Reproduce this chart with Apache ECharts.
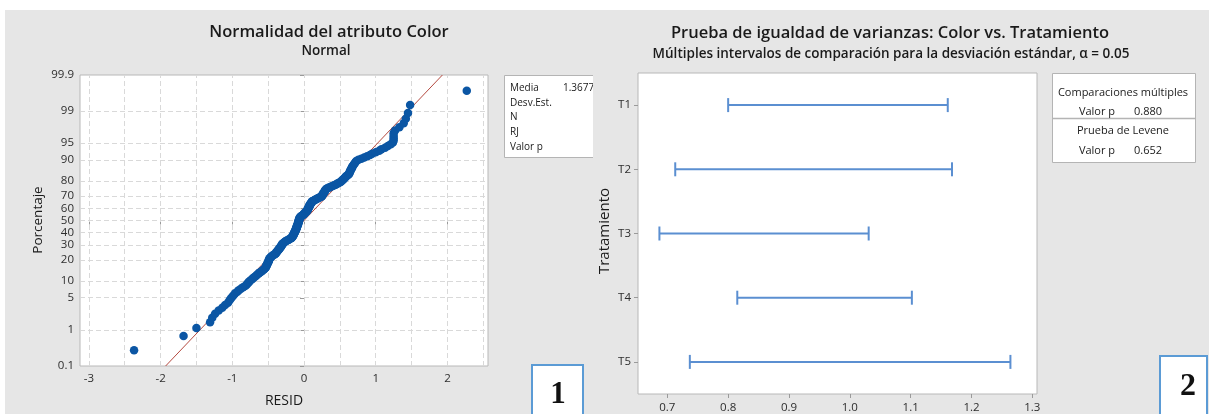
<!DOCTYPE html>
<html>
<head>
<meta charset="utf-8">
<script src="https://cdn.jsdelivr.net/npm/echarts@6/dist/echarts.min.js"></script>
<style>
  html, body { margin: 0; padding: 0; background: #ffffff; }
  #chart { width: 1209px; height: 414px; }
</style>
</head>
<body>
<div id="chart"></div>
<script>
// ---- Panel 1: normal probability plot of the residuals (sorted RESID values) ----
const residuals = [
  -2.37, -1.68, -1.50, -1.31, -1.28, -1.24, -1.19, -1.14, -1.10, -1.06,
  -1.04, -1.02, -1.00, -0.98, -0.96, -0.93, -0.91, -0.88, -0.85, -0.82,
  -0.80, -0.79, -0.77, -0.76, -0.74, -0.72, -0.71, -0.69,
  -0.67, -0.66, -0.64, -0.63, -0.61, -0.59, -0.58, -0.56,
  -0.55, -0.54, -0.53, -0.53, -0.52, -0.52, -0.51, -0.51, -0.50, -0.50, -0.49, -0.49, -0.49, -0.48, -0.48,
  -0.47, -0.46, -0.45, -0.44, -0.43, -0.41, -0.40,
  -0.39, -0.39, -0.38, -0.37, -0.37, -0.36, -0.35, -0.35, -0.34, -0.33, -0.33, -0.32, -0.32, -0.31, -0.31, -0.30, -0.30, -0.29,
  -0.28, -0.27, -0.26, -0.25, -0.24, -0.22, -0.21, -0.20, -0.18,
  -0.17, -0.17, -0.16, -0.16, -0.15, -0.15, -0.15, -0.14, -0.14, -0.14, -0.13, -0.13, -0.13, -0.12, -0.12, -0.12, -0.11, -0.11, -0.11, -0.11, -0.10, -0.10, -0.10,
  -0.10, -0.09, -0.09, -0.09, -0.09, -0.08, -0.08, -0.08, -0.08, -0.08, -0.07, -0.07, -0.07, -0.07, -0.07, -0.06, -0.06, -0.06, -0.05, -0.05,
  -0.04, -0.03, -0.02, -0.01, 0.00, 0.00, 0.01, 0.02, 0.02, 0.03,
  0.04, 0.04, 0.05, 0.05, 0.05, 0.06, 0.06, 0.06, 0.07, 0.07, 0.07, 0.08, 0.08, 0.08, 0.09, 0.09, 0.10, 0.10, 0.11, 0.11,
  0.12, 0.14, 0.15, 0.16, 0.18, 0.19, 0.21, 0.22, 0.24,
  0.25, 0.25, 0.26, 0.26, 0.27, 0.27, 0.28, 0.28, 0.29, 0.29, 0.30, 0.30, 0.31, 0.32,
  0.34, 0.36, 0.38, 0.40, 0.42, 0.44, 0.46, 0.47, 0.49, 0.51,
  0.52, 0.53, 0.54, 0.55, 0.56, 0.57, 0.58, 0.59, 0.60, 0.62,
  0.63, 0.63, 0.64, 0.64, 0.65, 0.65, 0.66, 0.67, 0.67, 0.68, 0.69, 0.70, 0.71, 0.72,
  0.73, 0.76, 0.80, 0.84, 0.88, 0.92,
  0.95, 1.00, 1.05, 1.08, 1.13, 1.17, 1.21,
  1.24, 1.25, 1.25, 1.25, 1.25,
  1.27, 1.33, 1.39, 1.42, 1.45, 1.48, 2.27
];
// fitted normal line, given by its end points [RESID, percent]
const fitLine = [[-1.93, 0.1], [1.93, 99.9]];
const percentTicks = [0.1, 1, 5, 10, 20, 30, 40, 50, 60, 70, 80, 90, 95, 99, 99.9];
const residTicks = [-3, -2, -1, 0, 1, 2];
const residGrid = [-3, -2.5, -2, -1.5, -1, -0.5, 0, 0.5, 1, 1.5, 2, 2.5];
const statLabels = ['Media', 'Desv.Est.', 'N', 'RJ', 'Valor p'];
const statMean = '1.3677';

// ---- Panel 2: Bonferroni intervals for the standard deviation ----
const treatments = ['T1', 'T2', 'T3', 'T4', 'T5'];
const sdLower = [0.800, 0.713, 0.687, 0.815, 0.737];
const sdUpper = [1.161, 1.168, 1.031, 1.102, 1.264];
const sdTicks = [0.7, 0.8, 0.9, 1.0, 1.1, 1.2, 1.3];
const pMultiple = '0.880';
const pLevene = '0.652';

// inverse standard normal CDF (Acklam), used for the probability scale
function probit(p) {
  const a = [-3.969683028665376e+01, 2.209460984245205e+02, -2.759285104469687e+02, 1.383577518672690e+02, -3.066479806614716e+01, 2.506628277459239e+00];
  const b = [-5.447609879822406e+01, 1.615858368580409e+02, -1.556989798598866e+02, 6.680131188771802e+01, -1.328068155288572e+01];
  const c = [-7.784894002430293e-03, -3.223964580411365e-01, -2.400758277161838e+00, -2.549732539343734e+00, 4.374664141464968e+00, 2.938163982698783e+00];
  const d = [7.784695709041462e-03, 3.224671290700398e-01, 2.445134137142996e+00, 3.754408661907416e+00];
  const pl = 0.02425, ph = 1 - pl;
  let q, r;
  if (p < pl) {
    q = Math.sqrt(-2 * Math.log(p));
    return (((((c[0]*q+c[1])*q+c[2])*q+c[3])*q+c[4])*q+c[5]) / ((((d[0]*q+d[1])*q+d[2])*q+d[3])*q+1);
  }
  if (p <= ph) {
    q = p - 0.5; r = q * q;
    return (((((a[0]*r+a[1])*r+a[2])*r+a[3])*r+a[4])*r+a[5])*q / (((((b[0]*r+b[1])*r+b[2])*r+b[3])*r+b[4])*r+1);
  }
  q = Math.sqrt(-2 * Math.log(1 - p));
  return -(((((c[0]*q+c[1])*q+c[2])*q+c[3])*q+c[4])*q+c[5]) / ((((d[0]*q+d[1])*q+d[2])*q+d[3])*q+1);
}

const FONT = "'Open Sans', 'Noto Sans', sans-serif";
const TXT = '#1a1a1a';
const AX = '#2e2e2e';
const GRIDC = '#d9d9d9';
const BOX = '#b4b4b4';
const PANEL_BG = '#e6e6e6';

const n = residuals.length;
const tickZ = percentTicks.map(p => probit(p / 100));
// median-rank plotting positions
const probPoints = residuals.map((r, i) => [r, probit((i + 1 - 0.3) / (n + 0.4))]);
const fitPoints = fitLine.map(([x, p]) => [x, probit(p / 100)]);
const intervals = treatments.map((t, i) => [sdLower[i], sdUpper[i], i]);

const chart = echarts.init(document.getElementById('chart'), null, { renderer: 'canvas' });

const gridMarks = [].concat(
  residGrid.map(v => ({ xAxis: v })),
  tickZ.slice(1, -1).map(z => ({ yAxis: z }))
);

function textEl(x, y, str, size, opts) {
  opts = opts || {};
  return {
    type: 'text', x: x, y: y, rotation: opts.rotation || 0, z: 10,
    style: {
      text: str, fill: opts.color || TXT,
      font: (opts.weight || 'normal') + ' ' + size + 'px ' + (opts.family || FONT),
      textAlign: opts.align || 'center', textVerticalAlign: 'middle'
    }
  };
}

const graphics = [
  // white frame strips
  { type: 'rect', shape: { x: 0, y: 0, width: 1209, height: 10 }, style: { fill: '#ffffff' }, z: 0 },
  { type: 'rect', shape: { x: 0, y: 0, width: 5, height: 414 }, style: { fill: '#ffffff' }, z: 0 },
  // titles
  textEl(329, 32, 'Normalidad del atributo Color', 16.5, { weight: 600 }),
  textEl(326, 51, 'Normal', 13.5, { weight: 600 }),
  textEl(890, 33, 'Prueba de igualdad de varianzas: Color vs. Tratamiento', 16.5, { weight: 600 }),
  textEl(891, 54, 'Múltiples intervalos de comparación para la desviación estándar, α = 0.05', 13.5, { weight: 600 }),
  // axis names
  textEl(38, 220, 'Porcentaje', 13.5, { rotation: Math.PI / 2 }),
  textEl(284, 401, 'RESID', 14),
  textEl(605, 231, 'Tratamiento', 15, { rotation: Math.PI / 2 }),
  // statistics box of panel 1, cut off at the panel edge (no right border)
  { type: 'rect', shape: { x: 504.5, y: 75.5, width: 88.5, height: 82 }, style: { fill: '#ffffff' }, z: 5 },
  { type: 'polyline', shape: { points: [[593, 75.5], [504.5, 75.5], [504.5, 157.5], [593, 157.5]] }, style: { stroke: BOX, lineWidth: 1, fill: null }, z: 6 }
];
statLabels.forEach((s, i) => graphics.push(textEl(510, 88 + i * 14.8, s, 10, { align: 'left' })));
graphics.push(textEl(563, 88, statMean, 10, { align: 'left' }));
graphics.push({ type: 'rect', shape: { x: 593, y: 68, width: 10, height: 100 }, style: { fill: PANEL_BG, lineWidth: 0 }, z: 20 });

// results box of panel 2
graphics.push(
  { type: 'rect', shape: { x: 1052.5, y: 73.5, width: 143, height: 89 }, style: { fill: '#ffffff', stroke: BOX, lineWidth: 1 }, z: 5 },
  { type: 'line', shape: { x1: 1052, y1: 118.5, x2: 1196, y2: 118.5 }, style: { stroke: BOX, lineWidth: 1.5 }, z: 6 },
  textEl(1123, 93, 'Comparaciones múltiples', 11),
  textEl(1097, 112, 'Valor p', 11),
  textEl(1148, 112, pMultiple, 11),
  textEl(1123, 131, 'Prueba de Levene', 11),
  textEl(1097, 151, 'Valor p', 11),
  textEl(1148, 151, pLevene, 11)
);

// numbered panel tags
graphics.push(
  { type: 'rect', shape: { x: 532, y: 365, width: 51, height: 60 }, style: { fill: '#ffffff', stroke: '#5b9bd5', lineWidth: 2 }, z: 5 },
  textEl(558, 395, '1', 31, { weight: 'bold', family: "'Liberation Serif', serif", color: '#111' }),
  { type: 'rect', shape: { x: 1160, y: 356, width: 47, height: 70 }, style: { fill: '#ffffff', stroke: '#5b9bd5', lineWidth: 2 }, z: 5 },
  textEl(1188, 387, '2', 32, { weight: 'bold', family: "'Liberation Serif', serif", color: '#111' })
);

const axisTickStyle = { show: true, inside: false, length: 4, lineStyle: { color: '#9a9a9a', width: 1 } };
const labelStyle = { color: AX, fontFamily: FONT, fontSize: 11.5 };

const option = {
  animation: false,
  backgroundColor: PANEL_BG,
  textStyle: { fontFamily: FONT },
  grid: [
    { left: 80, top: 75, width: 408, height: 291, show: true, backgroundColor: '#ffffff', borderColor: '#b8b8b8', borderWidth: 1 },
    { left: 638, top: 73, width: 399, height: 321, show: true, backgroundColor: '#ffffff', borderColor: '#b8b8b8', borderWidth: 1 }
  ],
  xAxis: [
    {
      type: 'value', gridIndex: 0, min: -3.124, max: 2.566,
      axisLine: { show: false },
      axisTick: Object.assign({ customValues: residTicks }, axisTickStyle),
      axisLabel: Object.assign({ customValues: residTicks, margin: 7, formatter: v => String(v) }, labelStyle),
      splitLine: { show: false }
    },
    {
      type: 'value', gridIndex: 1, min: 0.6518, max: 1.3077,
      axisLine: { show: false },
      axisTick: Object.assign({ customValues: sdTicks }, axisTickStyle),
      axisLabel: Object.assign({ customValues: sdTicks, margin: 8, formatter: v => v.toFixed(1) }, labelStyle),
      splitLine: { show: false }
    }
  ],
  yAxis: [
    {
      type: 'value', gridIndex: 0, min: tickZ[0], max: tickZ[tickZ.length - 1],
      axisLine: { show: false },
      axisTick: Object.assign({ customValues: tickZ }, axisTickStyle),
      axisLabel: Object.assign({
        customValues: tickZ, margin: 6,
        formatter: v => {
          const k = tickZ.findIndex(z => Math.abs(z - v) < 1e-6);
          return k >= 0 ? String(percentTicks[k]) : '';
        }
      }, labelStyle),
      splitLine: { show: false }
    },
    {
      type: 'category', gridIndex: 1, data: treatments, inverse: true, boundaryGap: true,
      axisLine: { show: false },
      axisTick: Object.assign({ alignWithLabel: true }, axisTickStyle),
      axisLabel: Object.assign({ margin: 7 }, labelStyle),
      splitLine: { show: false }
    }
  ],
  series: [
    {
      // reference grid of the probability plot
      type: 'line', xAxisIndex: 0, yAxisIndex: 0, data: [], z: 1, silent: true,
      markLine: {
        z: 1, silent: true, symbol: ['none', 'none'], label: { show: false },
        lineStyle: { color: GRIDC, type: [5, 3], width: 1 },
        emphasis: { disabled: true },
        data: gridMarks
      }
    },
    {
      type: 'line', xAxisIndex: 0, yAxisIndex: 0, data: fitPoints, z: 8,
      symbol: 'none', lineStyle: { color: '#b4493f', width: 1 }, silent: true
    },
    {
      type: 'scatter', xAxisIndex: 0, yAxisIndex: 0, data: probPoints, z: 9,
      symbol: 'circle', symbolSize: 8.5, itemStyle: { color: '#0b56a4', opacity: 1 }, silent: true
    },
    {
      type: 'custom', xAxisIndex: 1, yAxisIndex: 1, data: intervals, z: 4,
      encode: { x: [0, 1], y: 2 },
      renderItem: function (params, api) {
        const p1 = api.coord([api.value(0), api.value(2)]);
        const p2 = api.coord([api.value(1), api.value(2)]);
        const h = 7;
        const st = { stroke: '#5b8fd1', lineWidth: 2 };
        return {
          type: 'group',
          children: [
            { type: 'line', shape: { x1: p1[0], y1: p1[1], x2: p2[0], y2: p2[1] }, style: st },
            { type: 'line', shape: { x1: p1[0], y1: p1[1] - h, x2: p1[0], y2: p1[1] + h }, style: st },
            { type: 'line', shape: { x1: p2[0], y1: p2[1] - h, x2: p2[0], y2: p2[1] + h }, style: st }
          ]
        };
      }
    }
  ],
  graphic: graphics
};

chart.setOption(option);
</script>
</body>
</html>
